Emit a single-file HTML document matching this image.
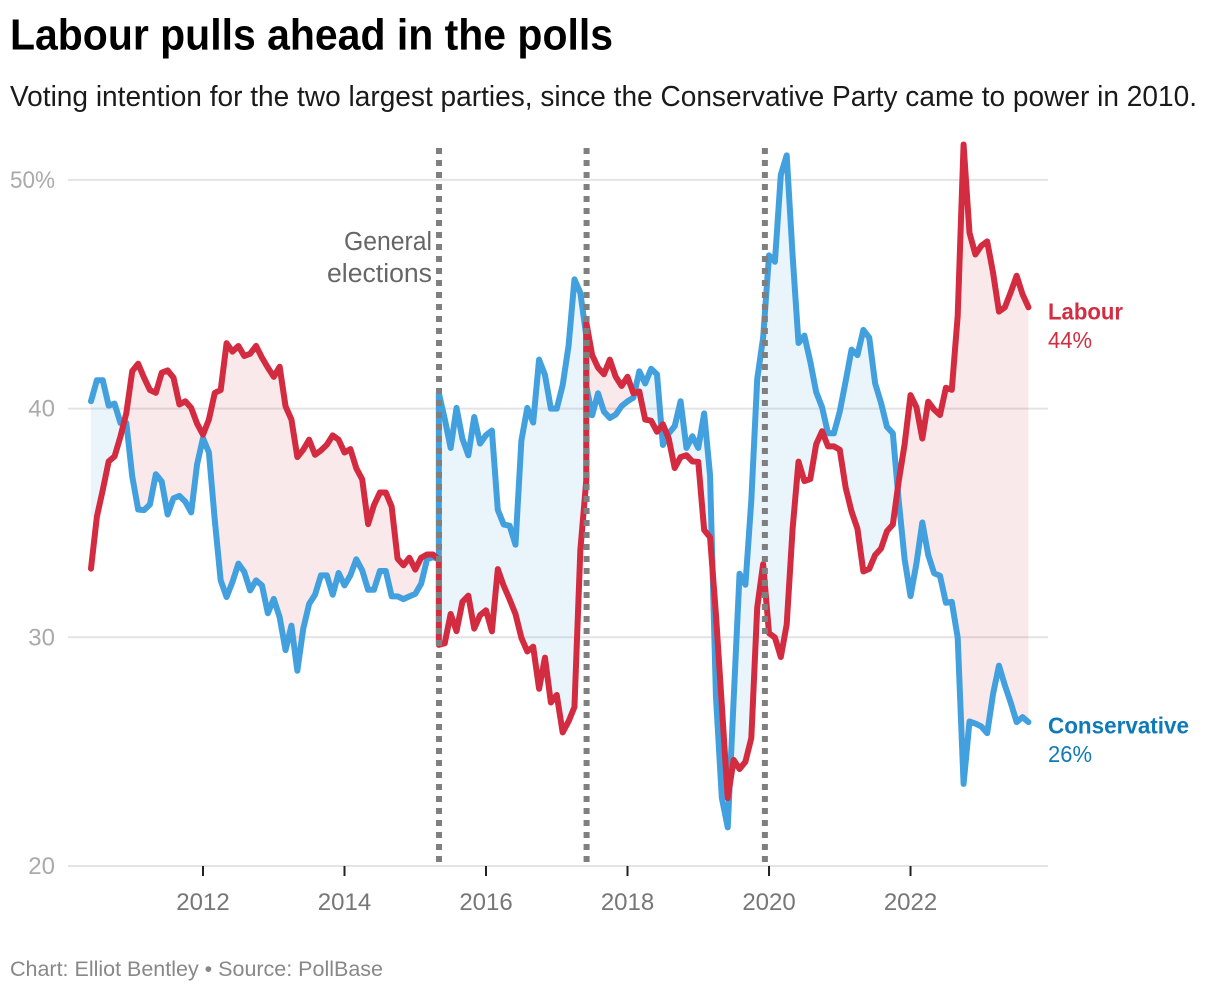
<!DOCTYPE html>
<html lang="en">
<head>
<meta charset="utf-8">
<title>Labour pulls ahead in the polls</title>
<style>
  html, body { margin: 0; padding: 0; background: #fff; }
  svg { display: block; font-family: "Liberation Sans", sans-serif; }
</style>
</head>
<body>
<svg id="chart" width="1220" height="992" viewBox="0 0 1220 992" xmlns="http://www.w3.org/2000/svg">
  <rect width="1220" height="992" fill="#fff"/>
  <text x="10" y="49.5" font-size="44" font-weight="700" fill="#000" textLength="603" lengthAdjust="spacingAndGlyphs">Labour pulls ahead in the polls</text>
  <text x="10" y="106" font-size="28.5" fill="#1a1a1a" textLength="1187" lengthAdjust="spacingAndGlyphs">Voting intention for the two largest parties, since the Conservative Party came to power in 2010.</text>
  <g id="grid"></g>
  <g id="areas"></g>
  <g id="lines"></g>
  <g id="elections"></g>
  <g id="xaxis"></g>
  <text x="432" y="250" font-size="25.5" fill="#666" text-anchor="end" textLength="88" lengthAdjust="spacingAndGlyphs">General</text>
  <text x="432" y="282" font-size="25.5" fill="#666" text-anchor="end" textLength="105" lengthAdjust="spacingAndGlyphs">elections</text>
  <text x="1048" y="319.5" font-size="23.5" font-weight="700" fill="#d22e41" textLength="75" lengthAdjust="spacingAndGlyphs">Labour</text>
  <text x="1048" y="348" font-size="23.5" fill="#d22e41" textLength="44" lengthAdjust="spacingAndGlyphs">44%</text>
  <text x="1048" y="733.5" font-size="23.5" font-weight="700" fill="#0f7ab8" textLength="141" lengthAdjust="spacingAndGlyphs">Conservative</text>
  <text x="1048" y="762" font-size="23.5" fill="#0f7ab8" textLength="44" lengthAdjust="spacingAndGlyphs">26%</text>
  <text x="10" y="976" font-size="21.5" fill="#888" textLength="373" lengthAdjust="spacingAndGlyphs">Chart: Elliot Bentley • Source: PollBase</text>
</svg>
<script>
// Monthly polling averages from June 2010. Months 59 (May 2015) and 84 (June 2017)
// appear twice: the pre-election and post-election averages.
const labour = [
  33.0,35.27,36.44,37.69,37.91,38.78,39.81,41.64,41.96,41.35,40.81,40.69,41.57,41.67,41.35,40.18,40.32,40.03,39.34,38.86,
  39.52,40.69,40.81,42.86,42.49,42.74,42.3,42.4,42.74,42.23,41.79,41.39,41.83,40.1,39.52,37.88,38.2,38.64,37.98,38.17,
  38.42,38.83,38.64,38.08,38.23,37.39,36.91,34.95,35.78,36.33,36.33,35.71,33.44,33.15,33.48,32.96,33.48,33.62,33.62,33.41,
  29.67,29.74,31.02,30.27,31.55,31.82,30.38,30.97,31.18,30.26,32.98,32.25,31.66,31.02,29.98,29.38,29.59,27.75,29.11,27.15,
  27.48,25.84,26.32,26.95,33.81,36.84,
  43.78,42.34,41.79,41.5,42.14,41.39,40.99,41.39,40.67,40.75,39.52,39.47,38.99,39.31,38.68,37.4,37.88,37.96,37.69,37.67,
  34.69,34.37,31.0,27.0,22.97,24.64,24.24,24.56,25.6,31.3,33.2,30.18,29.99,29.14,30.56,34.74,37.68,36.83,36.92,38.44,
  39.01,38.35,38.35,38.2,36.54,35.5,34.74,32.88,32.99,33.6,33.88,34.64,34.93,36.83,38.44,40.59,40.06,38.69,40.3,39.96,
  39.72,40.91,40.82,44.05,51.55,47.69,46.74,47.12,47.31,45.94,44.24,44.43,45.09,45.81,45.0,44.43
];
const conservative = [
  40.32,41.24,41.24,40.13,40.22,39.37,39.37,37.03,35.59,35.56,35.81,37.13,36.81,35.37,36.08,36.18,35.93,35.46,37.57,38.71,
  38.08,35.12,32.49,31.76,32.42,33.22,32.86,32.05,32.49,32.27,31.05,31.68,30.88,29.44,30.51,28.54,30.37,31.46,31.86,32.71,
  32.71,31.86,32.81,32.27,32.71,33.41,32.93,32.08,32.08,32.9,32.9,31.79,31.79,31.67,31.79,31.9,32.34,33.41,33.51,33.41,
  40.67,39.55,38.28,40.03,38.68,37.96,39.63,38.47,38.84,39.04,35.57,34.93,34.88,34.05,38.6,40.03,39.39,42.14,41.47,40.0,
  40.0,41.02,42.74,45.65,45.06,43.2,
  41.0,39.71,40.67,39.87,39.59,39.74,40.11,40.32,40.48,41.63,41.1,41.74,41.5,38.41,38.92,39.23,40.32,38.28,38.79,38.28,
  39.79,37.08,27.4,22.97,21.69,27.27,32.78,32.3,36.0,41.29,43.1,46.7,46.42,50.22,51.07,46.7,42.87,43.19,42.05,40.72,
  40.06,38.92,38.92,39.87,41.2,42.58,42.34,43.44,43.1,41.1,40.25,39.2,38.92,35.97,33.41,31.8,33.22,35.02,33.6,32.8,
  32.69,31.51,31.55,29.99,23.59,26.32,26.23,26.1,25.81,27.52,28.76,27.9,27.14,26.29,26.51,26.29
];
const doubledMonths = [59, 84];
const electionMonths = [59.03, 84.06, 114.3];
const yTicks = [20, 30, 40, 50];
const yTickLabels = ["20", "30", "40", "50%"];
const xTickYears = [2012, 2014, 2016, 2018, 2020, 2022];

const NS = "http://www.w3.org/2000/svg";
const xScale = m => 203 + (m - 19) * 5.896;
const yScale = v => 866 - (v - 20) * 22.87;
const yearToMonth = yr => (yr - 2012) * 12 + 19;

function make(tag, attrs, parent) {
  const el = document.createElementNS(NS, tag);
  for (const k in attrs) el.setAttribute(k, attrs[k]);
  parent.appendChild(el);
  return el;
}

// Month of each point, accounting for repeated election months
const months = [];
let currentMonth = 0;
labour.forEach((_, i) => {
  months.push(currentMonth);
  const repeatNext = doubledMonths.includes(currentMonth) && months.filter(m => m === currentMonth).length === 1;
  if (!repeatNext) currentMonth++;
});

// Gridlines and y labels
const grid = document.getElementById("grid");
yTicks.forEach((t, i) => {
  const line = make("line", {x1: 68, x2: 1048, y1: yScale(t), y2: yScale(t), stroke: "#e4e4e4", "stroke-width": 2}, grid);
  
  
  const label = make("text", {x: 55, y: yScale(t) + 8, "font-size": 24, fill: "#aaa", "text-anchor": "end"}, grid);
  
  
  if (yTickLabels[i].length > 2) {
    label.setAttribute('textLength', '45');
    label.setAttribute('lengthAdjust', 'spacingAndGlyphs');
  }
  label.textContent = yTickLabels[i];
});

// Filled gap between the two series, split at each crossing
const areas = document.getElementById("areas");
const areaLabour = labour.slice();
areaLabour[0] = labour[1];
function flushRun(run, sign) {
  if (run.length < 2) return;
  const top = run.map(p => p.x.toFixed(2) + "," + p.a.toFixed(2));
  const bottom = run.slice().reverse().map(p => p.x.toFixed(2) + "," + p.b.toFixed(2));
  const poly = make("polygon", {
    points: top.concat(bottom).join(" "),
    fill: sign > 0 ? "#42a0de" : "#d32b40",
    "fill-opacity": sign > 0 ? 0.115 : 0.105
  }, areas);
  
  
}
let run = [];
let sign = 0;
months.forEach((m, i) => {
  const p = {x: xScale(m), a: yScale(conservative[i]), b: yScale(areaLabour[i])};
  const d = conservative[i] - areaLabour[i];
  const s = d > 0 ? 1 : d < 0 ? -1 : 0;
  if (sign !== 0 && s !== 0 && s !== sign) {
    const prev = run[run.length - 1];
    const d0 = prev.b - prev.a;
    const d1 = p.b - p.a;
    const t = d0 / (d0 - d1);
    const cross = {x: prev.x + (p.x - prev.x) * t, a: prev.a + (p.a - prev.a) * t, b: prev.b + (p.b - prev.b) * t};
    run.push(cross);
    flushRun(run, sign);
    run = [cross];
  }
  if (s !== 0) sign = s;
  run.push(p);
});
flushRun(run, sign);

// Series lines
const lines = document.getElementById("lines");
function seriesPath(values) {
  return values.map((v, i) => (i ? "L" : "M") + xScale(months[i]).toFixed(2) + " " + yScale(v).toFixed(2)).join(" ");
}
const consLine = make("path", {d: seriesPath(conservative), fill: "none", stroke: "#42a0de", "stroke-width": 6, "stroke-linejoin": "round", "stroke-linecap": "round"}, lines);


const labLine = make("path", {d: seriesPath(labour), fill: "none", stroke: "#d32b40", "stroke-width": 6, "stroke-linejoin": "round", "stroke-linecap": "round"}, lines);



// Election markers
const elections = document.getElementById("elections");
electionMonths.forEach(m => {
  const line = make("line", {x1: xScale(m), x2: xScale(m), y1: 148, y2: 866, stroke: "#7f7f7f", "stroke-width": 6, "stroke-dasharray": "6 6"}, elections);
  
  
});

// X axis
const xaxis = document.getElementById("xaxis");
xTickYears.forEach(yr => {
  const x = xScale(yearToMonth(yr));
  const tick = make("line", {x1: x, x2: x, y1: 866, y2: 876, stroke: "#222", "stroke-width": 2}, xaxis);
  
  
  const label = make("text", {x: x, y: 910, "font-size": 24, fill: "#777", "text-anchor": "middle"}, xaxis);
  
  
  label.textContent = yr;
});
</script>
</body>
</html>
